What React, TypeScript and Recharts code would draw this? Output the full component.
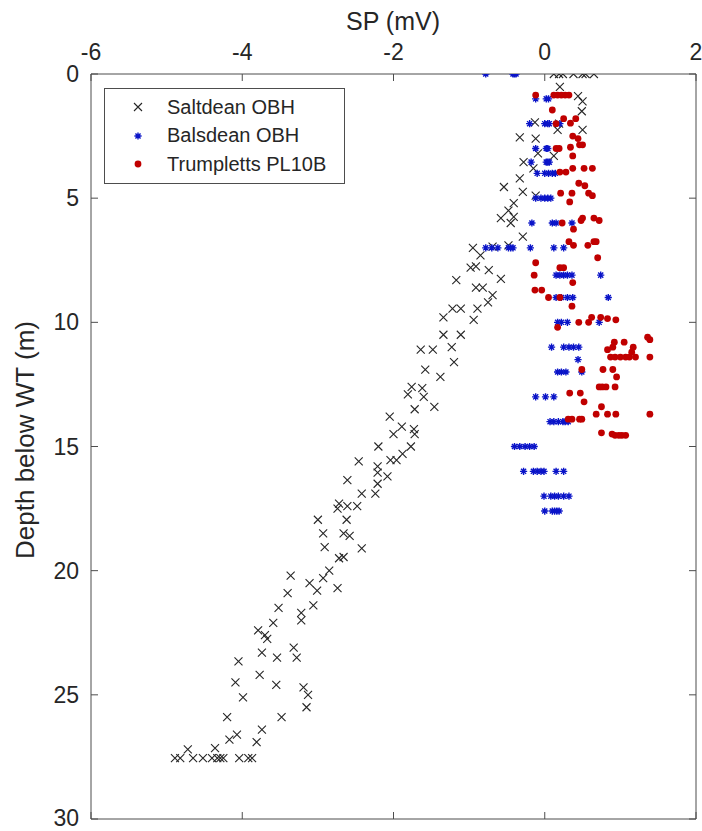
import { Scatter, ScatterChart, XAxis, YAxis } from 'recharts';

// Saltdean OBH (black crosses)
const SALTDEAN_SP = [
  0.12, 0.19, 0.24, 0.38, 0.5, 0.54, 0.65, 0.2, 0.44, 0.5, 0.49, -0.13, 0.19, 0.17, 0.5, -0.33, -0.12, -0.09, 0.12,
  -0.28, -0.15, -0.33, -0.54, -0.29, -0.12, -0.41, -0.48, -0.41, -0.58, -0.45, -0.29, -0.48, -0.69, -0.95, -0.85,
  -0.91, -0.98, -0.74, -0.58, -1.17, -0.91, -0.82, -0.69, -0.75, -1.22, -1.11, -0.89, -1.34, -0.94, -1.34, -1.11,
  -1.64, -1.48, -1.23, -1.2, -1.58, -1.38, -1.76, -1.62, -1.81, -1.6, -1.46, -1.72, -2.05, -1.89, -1.73, -2.0, -1.72,
  -2.2, -1.77, -1.88, -2.04, -1.96, -2.46, -2.21, -2.21, -2.08, -2.61, -2.21, -2.42, -2.24, -2.72, -2.74, -2.61,
  -2.48, -3.0, -2.62, -2.93, -2.66, -2.58, -2.91, -2.42, -2.72, -2.66, -2.85, -3.36, -2.93, -3.11, -3.01, -2.74,
  -3.4, -3.06, -3.52, -3.22, -3.22, -3.59, -3.79, -3.7, -3.67, -3.32, -3.74, -3.54, -3.28, -4.05, -3.77, -4.09,
  -3.55, -3.19, -3.13, -3.99, -3.15, -4.2, -3.48, -3.74, -4.07, -4.17, -3.81, -4.72, -4.36, -4.89, -4.82, -4.65,
  -4.52, -4.4, -4.33, -4.29, -4.25, -4.04, -3.92, -3.87,
];
const SALTDEAN_DEPTH = [
  0, 0, 0, 0, 0, 0, 0, 0.52, 0.89, 1.1, 1.5, 1.95, 2.0, 2.25, 2.25, 2.55, 2.6, 3.2, 3.3,
  3.55, 3.8, 4.2, 4.55, 4.75, 4.9, 5.2, 5.5, 5.75, 5.8, 6.0, 6.55, 6.9, 6.95, 7.0, 7.3,
  7.75, 7.8, 7.9, 8.25, 8.3, 8.6, 8.6, 8.9, 9.2, 9.45, 9.45, 9.45, 9.8, 9.9, 10.5, 10.5,
  11.1, 11.1, 11.0, 11.6, 11.9, 12.2, 12.6, 12.65, 12.9, 13.0, 13.4, 13.5, 13.8, 14.2, 14.3, 14.5, 14.5,
  15.0, 15.0, 15.3, 15.55, 15.55, 15.6, 15.8, 16.05, 16.2, 16.35, 16.5, 16.9, 16.9, 17.3, 17.5, 17.4,
  17.4, 17.95, 17.95, 18.5, 18.5, 18.6, 19.05, 19.1, 19.5, 19.45, 20.0, 20.2, 20.3, 20.5, 20.8, 20.7,
  20.9, 21.4, 21.5, 21.7, 22.0, 22.1, 22.4, 22.6, 22.75, 23.1, 23.3, 23.5, 23.5, 23.65, 24.2, 24.5,
  24.6, 24.7, 25.0, 25.1, 25.5, 25.9, 25.9, 26.4, 26.6, 26.8, 26.9, 27.2, 27.15, 27.55, 27.55, 27.55,
  27.55, 27.55, 27.55, 27.55, 27.55, 27.55, 27.55, 27.55,
];

// Balsdean OBH (blue asterisks)
const BALSDEAN_SP = [
  -0.78, -0.42, -0.4, -0.38, -0.12, 0.02, 0.05, -0.2, 0.0, 0.04, 0.06, 0.2, -0.12, 0.02, 0.04,
  -0.18, 0.02, 0.04, 0.06, -0.1, 0.0, 0.05, 0.1, 0.14, -0.12, -0.05, 0.0, 0.04, 0.08,
  -0.17, 0.1, 0.15, 0.36, -0.78, -0.7, -0.62, -0.48, -0.45, -0.42, -0.19, 0.12, 0.25,
  0.15, 0.2, 0.25, 0.3, 0.36, 0.74, 0.15, 0.22, 0.3, 0.37, 0.84, 0.17, 0.22, 0.3, 0.72,
  0.09, 0.25, 0.32, 0.38, 0.45, 0.44, 0.17, 0.22, 0.28, 0.49, -0.12, 0.01, 0.12,
  0.07, 0.12, 0.18, 0.24, 0.27, 0.31, -0.4, -0.33, -0.26, -0.2, -0.14,
  -0.28, -0.15, -0.1, -0.05, -0.01, 0.15, 0.25, -0.01, 0.08, 0.13, 0.18, 0.25, 0.32,
  0.0, 0.1, 0.13, 0.16, 0.19,
];
const BALSDEAN_DEPTH = [
  0, 0, 0, 0, 1.0, 1.0, 1.0, 2.0, 2.0, 2.0, 2.0, 2.0, 3.0, 3.0, 3.0,
  3.55, 3.55, 3.55, 3.55, 4.0, 4.0, 4.0, 4.0, 4.0, 5.0, 5.0, 5.0, 5.0, 5.0,
  6.0, 6.0, 6.0, 6.0, 7.0, 7.0, 7.0, 7.0, 7.0, 7.0, 7.0, 7.0, 7.0,
  8.1, 8.1, 8.1, 8.1, 8.1, 8.1, 9.0, 9.0, 9.0, 9.0, 9.0, 10.0, 10.0, 10.0, 10.0,
  11.0, 11.0, 11.0, 11.0, 11.0, 11.5, 12.0, 12.0, 12.0, 12.0, 13.0, 13.0, 13.0,
  14.0, 14.0, 14.0, 14.0, 14.0, 14.0, 15.0, 15.0, 15.0, 15.0, 15.0,
  16.0, 16.0, 16.0, 16.0, 16.0, 16.0, 16.0, 17.0, 17.0, 17.0, 17.0, 17.0, 17.0,
  17.6, 17.6, 17.6, 17.6, 17.6,
];

// Trumpletts PL10B (red dots)
const TRUMPLETTS_SP = [
  -0.12, 0.12, 0.17, 0.22, 0.27, 0.32, 0.1, 0.15, 0.25, 0.34, 0.41, 0.37, 0.44, 0.46, 0.5, 0.15, 0.19, 0.34,
  0.37, 0.37, 0.52, 0.63, 0.2, 0.28, 0.45, 0.53, 0.58, 0.63, 0.21, 0.36, 0.33, 0.23, 0.48, 0.5, 0.65, 0.72,
  0.38, 0.32, 0.65, 0.68, 0.38, 0.57, 0.7, -0.12, 0.2, 0.25, -0.14, 0.37, -0.13, -0.04, 0.05, 0.2, 0.36,
  0.45, 0.58, 0.62, 0.74, 0.83, 0.94, 0.17, 0.92, 1.05, 1.36, 1.39, 0.83, 0.9, 1.17, 1.15,
  0.87, 0.93, 1.0, 1.07, 1.12, 1.2, 1.39, 0.49, 0.77, 0.9, 0.95, 0.72, 0.76, 0.81, 0.93, 0.33, 0.47,
  0.52, 0.75, 0.68, 0.83, 0.94, 1.39, 0.31, 0.36, 0.46, 0.49, 0.75, 0.89, 0.93, 0.98, 1.02, 1.07,
];
const TRUMPLETTS_DEPTH = [
  0.85, 0.85, 0.85, 0.85, 0.85, 0.85, 1.45, 2.0, 1.8, 1.98, 1.8, 2.5, 2.6, 2.85, 2.85, 3.0, 3.0, 2.95,
  3.3, 3.8, 3.8, 3.8, 3.95, 3.95, 4.4, 4.5, 4.8, 4.9, 4.8, 4.8, 5.15, 6.0, 5.9, 5.8, 5.8, 5.9,
  6.25, 6.75, 6.75, 6.75, 6.9, 6.9, 7.4, 7.6, 7.8, 7.8, 8.1, 8.4, 8.7, 8.7, 9.0, 9.0, 9.35,
  10.0, 10.0, 9.8, 9.8, 9.85, 9.9, 10.2, 10.8, 10.8, 10.6, 10.7, 11.1, 11.0, 11.0, 11.2,
  11.4, 11.4, 11.4, 11.4, 11.4, 11.4, 11.4, 11.9, 11.9, 11.9, 12.2, 12.6, 12.6, 12.6, 12.6, 12.85, 12.85,
  13.2, 13.4, 13.7, 13.7, 13.7, 13.7, 13.9, 13.9, 13.9, 13.9, 14.45, 14.5, 14.55, 14.55, 14.55, 14.55,
];

const X_TICKS = [-6, -4, -2, 0, 2];
const Y_TICKS = [0, 5, 10, 15, 20, 25, 30];

const toRows = (sp: number[], depth: number[]) => sp.map((x, i) => ({ x, y: depth[i] }));

const FONT = '"Liberation Sans", Arial, sans-serif';
const AXIS = '#4d4d4d';
const BLACK = '#262626';
const BLUE = '#0a14c8';
const RED = '#c00000';

const Cross = ({ cx, cy }: any) => (
  <path
    d={`M${cx - 4},${cy - 4}L${cx + 4},${cy + 4}M${cx - 4},${cy + 4}L${cx + 4},${cy - 4}`}
    stroke={BLACK}
    strokeWidth={1.1}
    fill="none"
  />
);

const Asterisk = ({ cx, cy }: any) => {
  const r = 3.6;
  const d = r * 0.707;
  return (
    <path
      d={`M${cx - r},${cy}L${cx + r},${cy}M${cx},${cy - r}L${cx},${cy + r}M${cx - d},${cy - d}L${cx + d},${cy + d}M${cx - d},${cy + d}L${cx + d},${cy - d}`}
      stroke={BLUE}
      strokeWidth={1.4}
      fill="none"
    />
  );
};

const Dot = ({ cx, cy }: any) => <circle cx={cx} cy={cy} r={3.4} fill={RED} />;

const LEGEND_ITEMS = [
  { name: 'Saltdean OBH', Shape: Cross },
  { name: 'Balsdean OBH', Shape: Asterisk },
  { name: 'Trumpletts PL10B', Shape: Dot },
];

function LegendBox() {
  return (
    <div
      style={{
        position: 'absolute',
        left: 104,
        top: 88,
        border: `1px solid ${AXIS}`,
        background: '#fff',
        padding: '4px 18px 4px 23px',
        fontFamily: FONT,
        fontSize: 20,
        color: BLACK,
      }}
    >
      {LEGEND_ITEMS.map(({ name, Shape }) => (
        <div key={name} style={{ display: 'flex', alignItems: 'center', height: 28.5 }}>
          <svg width={30} height={20} style={{ marginRight: 9 }}>
            <Shape cx={10} cy={10} />
          </svg>
          {name}
        </div>
      ))}
    </div>
  );
}

export default function App() {
  const saltdean = toRows(SALTDEAN_SP, SALTDEAN_DEPTH);
  const balsdean = toRows(BALSDEAN_SP, BALSDEAN_DEPTH);
  const trumpletts = toRows(TRUMPLETTS_SP, TRUMPLETTS_DEPTH);

  const tickStyle = { fontSize: 23, fill: BLACK, fontFamily: FONT };

  return (
    <div style={{ position: 'absolute', left: 0, top: 0, width: 702, height: 831, background: '#fff' }}>
      <ScatterChart width={702} height={831} margin={{ top: 20, right: 5, bottom: 11, left: 0 }}>
        <XAxis
          xAxisId="top"
          orientation="top"
          type="number"
          dataKey="x"
          domain={[-6, 2]}
          ticks={X_TICKS}
          allowDataOverflow
          height={54}
          stroke={AXIS}
          tickSize={-7}
          tickMargin={21}
          tick={tickStyle}
        />
        <XAxis
          xAxisId="bottom"
          orientation="bottom"
          type="number"
          dataKey="x"
          domain={[-6, 2]}
          ticks={X_TICKS}
          allowDataOverflow
          height={1}
          stroke={AXIS}
          tickSize={-7}
          tickFormatter={() => ''}
        />
        <YAxis
          yAxisId="left"
          orientation="left"
          type="number"
          dataKey="y"
          domain={[0, 30]}
          ticks={Y_TICKS}
          reversed
          allowDataOverflow
          width={91}
          stroke={AXIS}
          tickSize={-7}
          tickMargin={19}
          tick={tickStyle}
        />
        <YAxis
          yAxisId="right"
          orientation="right"
          type="number"
          dataKey="y"
          domain={[0, 30]}
          ticks={Y_TICKS}
          reversed
          allowDataOverflow
          width={1}
          stroke={AXIS}
          tickSize={-7}
          tickFormatter={() => ''}
        />
        <Scatter
          name="Saltdean OBH"
          data={saltdean}
          xAxisId="top"
          yAxisId="left"
          shape={Cross}
          isAnimationActive={false}
        />
        <Scatter
          name="Balsdean OBH"
          data={balsdean}
          xAxisId="top"
          yAxisId="left"
          shape={Asterisk}
          isAnimationActive={false}
        />
        <Scatter
          name="Trumpletts PL10B"
          data={trumpletts}
          xAxisId="top"
          yAxisId="left"
          shape={Dot}
          isAnimationActive={false}
        />
      </ScatterChart>
      <LegendBox />
      <div
        style={{
          position: 'absolute',
          left: 393,
          top: 21,
          transform: 'translate(-50%, -50%)',
          fontFamily: FONT,
          fontSize: 25,
          color: BLACK,
          whiteSpace: 'nowrap',
        }}
      >
        SP (mV)
      </div>
      <div
        style={{
          position: 'absolute',
          left: 25,
          top: 440,
          transform: 'translate(-50%, -50%) rotate(-90deg)',
          fontFamily: FONT,
          fontSize: 26,
          color: BLACK,
          whiteSpace: 'nowrap',
        }}
      >
        Depth below WT (m)
      </div>
    </div>
  );
}
